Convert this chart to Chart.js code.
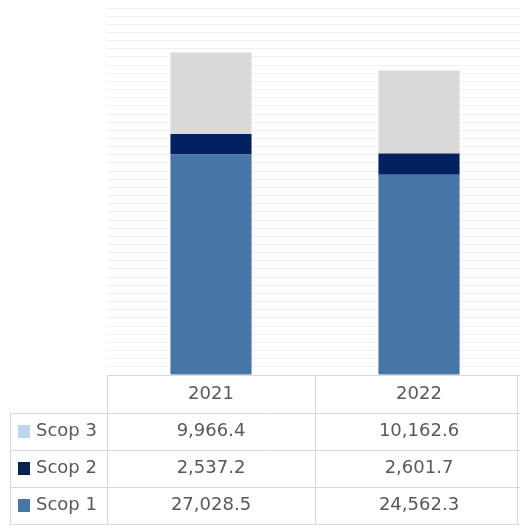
<!DOCTYPE html>
<html>
<head>
<meta charset="utf-8">
<script src="https://cdn.jsdelivr.net/npm/chart.js@4"></script>
<style>
  html, body { margin: 0; padding: 0; background: #fff; overflow: hidden; }
  #wrap { width: 524px; height: 527px; }
</style>
</head>
<body>
<div id="wrap"><canvas id="emissions"></canvas></div>
<script>
// emissions per scope, by year
const years = ['2021', '2022'];
const scop1 = [27028.5, 24562.3];
const scop2 = [2537.2, 2601.7];
const scop3 = [9966.4, 10162.6];
const seriesNames = ['Scop 1', 'Scop 2', 'Scop 3'];

const barColors = ['#4676A6', '#002060', '#D9D9D9'];
const swatchColors = ['#4676A6', '#0B2150', '#BFD4EC'];

const fmt = v => v.toLocaleString('en-US', { minimumFractionDigits: 1, maximumFractionDigits: 1 });

// data table under the plot: header row with years, then one row per scope (3, 2, 1)
const dataTable = {
  id: 'dataTable',
  afterDraw(chart) {
    const ctx = chart.ctx;
    const x = chart.scales.x;
    const area = chart.chartArea;
    const catW = (area.right - area.left) / years.length;
    const top = area.bottom;
    const rowH = 37;
    const rows = [[2, scop3], [1, scop2], [0, scop1]];
    const tableLeft = 10;
    const tableRight = 518;

    ctx.save();
    ctx.strokeStyle = '#D9D9D9';
    ctx.lineWidth = 1;
    ctx.beginPath();
    // horizontal rules
    ctx.moveTo(area.left, top + 0.5);
    ctx.lineTo(area.right, top + 0.5);
    for (let r = 1; r <= rows.length + 1; r++) {
      const y = Math.round(top + 1 + r * rowH) + 0.5;
      ctx.moveTo(tableLeft, y);
      ctx.lineTo(area.right, y);
    }
    // vertical rules
    const bottom = top + 1 + (rows.length + 1) * rowH;
    ctx.moveTo(tableLeft + 0.5, top + 1 + rowH);
    ctx.lineTo(tableLeft + 0.5, bottom);
    for (let i = 0; i < years.length; i++) {
      const xx = Math.round(area.left + i * catW) + 0.5;
      ctx.moveTo(xx, top);
      ctx.lineTo(xx, bottom);
    }
    ctx.moveTo(tableRight - 0.5, top);
    ctx.lineTo(tableRight - 0.5, bottom);
    ctx.stroke();

    ctx.fillStyle = '#595959';
    ctx.font = '18px "DejaVu Sans"';
    ctx.textAlign = 'center';
    ctx.textBaseline = 'middle';
    years.forEach((yr, i) => {
      ctx.fillText(yr, x.getPixelForValue(i), top + 1 + rowH / 2);
    });

    rows.forEach(([s, vals], r) => {
      const cy = top + 1 + (r + 1) * rowH + rowH / 2;
      ctx.fillStyle = swatchColors[s];
      ctx.fillRect(18, Math.round(cy - 7), 12, 13);
      ctx.fillStyle = '#595959';
      ctx.textAlign = 'left';
      ctx.fillText(seriesNames[s], 36, cy);
      ctx.textAlign = 'center';
      vals.forEach((v, i) => ctx.fillText(fmt(v), x.getPixelForValue(i), cy));
    });
    ctx.restore();
  }
};

new Chart(document.getElementById('emissions'), {
  type: 'bar',
  data: {
    labels: years,
    datasets: [
      { label: seriesNames[0], data: scop1, backgroundColor: barColors[0] },
      { label: seriesNames[1], data: scop2, backgroundColor: barColors[1] },
      { label: seriesNames[2], data: scop3, backgroundColor: barColors[2] }
    ]
  },
  options: {
    responsive: true,
    maintainAspectRatio: false,
    animation: false,
    layout: { padding: { left: 107, right: 1, top: 8, bottom: 152 } },
    datasets: { bar: { categoryPercentage: 1, barPercentage: 0.39 } },
    plugins: { legend: { display: false }, tooltip: { enabled: false } },
    scales: {
      x: { stacked: true, display: false },
      y: {
        stacked: true,
        min: 0,
        max: 45000,
        ticks: { display: false, stepSize: 1000 },
        grid: { color: '#F0F0F0', drawTicks: false },
        border: { display: false }
      }
    }
  },
  plugins: [dataTable]
});
</script>
</body>
</html>
